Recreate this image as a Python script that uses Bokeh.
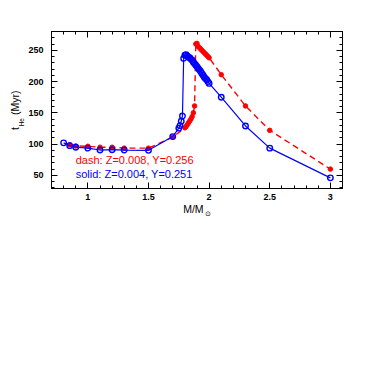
from bokeh.plotting import figure
from bokeh.models import LinearAxis, Label, Range1d, FixedTicker
from bokeh.embed import file_html
from bokeh.resources import INLINE

# Z=0.008, Y=0.256 (dashed, red)
red_mass = [0.85, 0.9, 1.0, 1.1, 1.2, 1.3, 1.5, 1.7, 1.8, 1.81, 1.82, 1.83, 1.84, 1.85,
            1.86, 1.87, 1.88, 1.89, 1.9, 1.91, 1.92, 1.93, 1.94, 1.95, 1.96, 1.97, 1.98,
            1.99, 2.0, 2.1, 2.3, 2.5, 3.0]
red_t = [99, 97, 96.5, 95, 95, 93.5, 93.5, 111, 126, 128, 131, 134, 137, 140,
         144, 150, 161, 260, 261, 256, 254, 252, 250, 248, 246, 244, 242,
         240, 238, 211, 161, 122, 60]

# Z=0.004, Y=0.251 (solid, blue)
blue_mass = [0.8, 0.85, 0.9, 1.0, 1.1, 1.2, 1.3, 1.5, 1.7, 1.75, 1.76, 1.77, 1.78,
             1.79, 1.80, 1.81, 1.82, 1.83, 1.84, 1.85, 1.86, 1.87, 1.88, 1.89, 1.9,
             1.91, 1.92, 1.93, 1.94, 1.95, 1.96, 1.97, 1.98, 1.99, 2.0, 2.1, 2.3, 2.5, 3.0]
blue_t = [102, 97.5, 95, 93.5, 90.5, 91, 90.5, 90, 112, 125.5, 129.5, 136.5, 145,
          237, 242, 243, 241, 239, 238, 236, 234, 231, 229, 226, 224,
          221, 219, 216, 213, 210, 207, 205, 203, 200, 197, 175, 129, 93.5, 46]

x_ticks = [1, 1.5, 2, 2.5, 3]
y_ticks = [50, 100, 150, 200, 250]

# axis-title pieces (text, placed along the axis)
y_title_main = {125: "t", 166: "(Myr)"}
y_title_sub = {135: "He"}
x_title_main = {1.87: "M/M"}
x_title_sub = {1.99: "\u2299"}

FONT = "Liberation Sans"

p = figure(width=351, height=351, output_backend="svg", toolbar_location=None,
           x_range=Range1d(0.7, 3.1), y_range=Range1d(29, 280),
           x_axis_location=None, y_axis_location=None,
           min_border_left=51, min_border_right=9, min_border_top=31, min_border_bottom=163)
p.grid.visible = False
p.outline_line_color = "black"
p.outline_line_width = 1
p.background_fill_color = "white"
p.border_fill_color = "white"


def make_axis(ticks, minor, show_labels):
    ax = LinearAxis(ticker=FixedTicker(ticks=ticks, minor_ticks=minor))
    ax.major_tick_in = 6
    ax.major_tick_out = 0
    ax.minor_tick_in = 3
    ax.minor_tick_out = 0
    ax.axis_line_color = "black"
    ax.major_tick_line_color = "black"
    ax.minor_tick_line_color = "black"
    ax.major_label_text_font = FONT
    ax.major_label_text_font_size = "9px"
    ax.major_label_text_font_style = "bold"
    ax.major_label_text_color = "black"
    if not show_labels:
        ax.major_label_text_alpha = 0
        ax.major_label_text_font_size = "1px"
        ax.major_label_standoff = 0
    return ax


def title_axis(pieces, font, size, standoff, vertical):
    ax = LinearAxis(ticker=FixedTicker(ticks=list(pieces.keys()), minor_ticks=[]))
    ax.major_label_overrides = dict(pieces)
    ax.axis_line_color = None
    ax.major_tick_line_color = None
    ax.minor_tick_line_color = None
    ax.major_tick_in = 0
    ax.major_tick_out = 0
    ax.minor_tick_in = 0
    ax.minor_tick_out = 0
    ax.major_label_text_font = font
    ax.major_label_text_font_size = size
    ax.major_label_text_font_style = "normal"
    ax.major_label_text_color = "black"
    ax.major_label_standoff = standoff
    if vertical:
        ax.major_label_orientation = "vertical"
    return ax


xminor = [round(0.7 + 0.1 * i, 2) for i in range(25)]
yminor = list(range(30, 281, 10))

bx = make_axis(x_ticks, xminor, True)
bx.major_label_standoff = 5
p.add_layout(bx, "below")
p.add_layout(title_axis(x_title_main, FONT, "10.5px", 0, False), "below")
p.add_layout(title_axis(x_title_sub, "DejaVu Sans", "7px", -8, False), "below")

tx = make_axis(x_ticks, xminor, False)
p.add_layout(tx, "above")

ly = make_axis(y_ticks, yminor, True)
ly.major_label_standoff = 8
p.add_layout(ly, "left")
p.add_layout(title_axis(y_title_sub, FONT, "6.5px", 0, True), "left")
p.add_layout(title_axis(y_title_main, FONT, "10.5px", -6, True), "left")

ry = make_axis(y_ticks, yminor, False)
p.add_layout(ry, "right")

# red dashed
p.line(red_mass, red_t, line_color="red", line_width=1.4, line_dash="6 4")
p.scatter(red_mass, red_t, marker="circle", size=4.5, fill_color="red", line_color="red")

# blue solid
p.line(blue_mass, blue_t, line_color="blue", line_width=1.2)
p.scatter(blue_mass, blue_t, marker="circle", size=5.5, fill_color=None,
          line_color="blue", line_width=1.4)

# legend texts
p.add_layout(Label(x=0.9, y=74, text="dash: Z=0.008, Y=0.256", text_color="red",
                   text_font=FONT, text_font_size="11px", text_baseline="middle"))
p.add_layout(Label(x=0.9, y=51.5, text="solid: Z=0.004, Y=0.251", text_color="blue",
                   text_font=FONT, text_font_size="11px", text_baseline="middle"))

open("out.html", "w").write(file_html(p, INLINE))
